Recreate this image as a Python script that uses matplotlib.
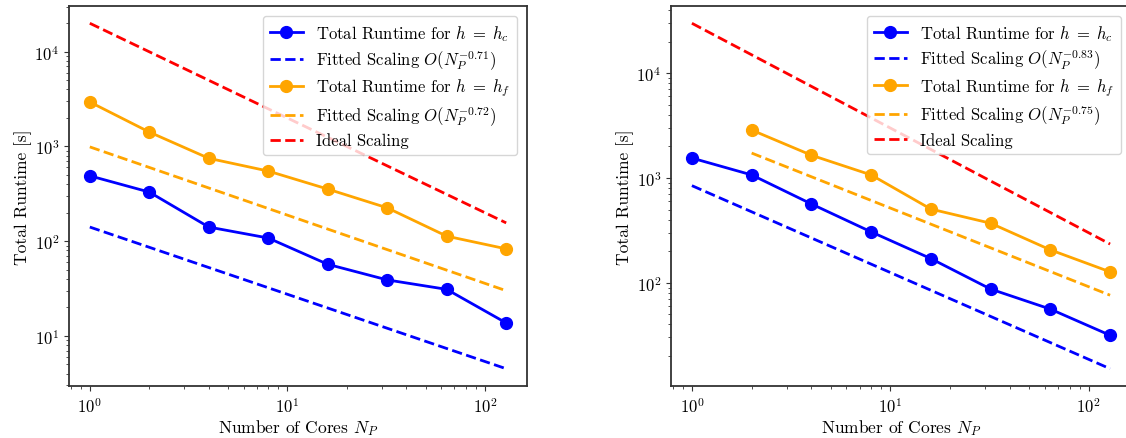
import matplotlib
matplotlib.use("Agg")
import matplotlib.pyplot as plt

plt.rcParams['font.family'] = 'serif'
plt.rcParams['font.serif'] = ['cmr10', 'DejaVu Serif']
plt.rcParams['mathtext.fontset'] = 'cm'
plt.rcParams['axes.unicode_minus'] = False
plt.rcParams['axes.formatter.use_mathtext'] = True
plt.rcParams['axes.edgecolor'] = '#333333'
plt.rcParams['axes.linewidth'] = 1.3
plt.rcParams['xtick.color'] = '#333333'
plt.rcParams['ytick.color'] = '#333333'
plt.rcParams['xtick.labelcolor'] = 'black'
plt.rcParams['ytick.labelcolor'] = 'black'

cores = [1, 2, 4, 8, 16, 32, 64, 128]

# Left panel
left_hc = [490, 330, 141, 108, 57, 39, 31, 13.7]
left_hf = [2950, 1420, 750, 550, 355, 225, 113, 83]
left_fit_hc_x = [1, 128]
left_fit_hc_y = [141, 4.5]
left_fit_hf_x = [1, 128]
left_fit_hf_y = [990, 30]
left_ideal_x = [1, 128]
left_ideal_y = [20000, 156]
left_exp_hc = "-0.71"
left_exp_hf = "-0.72"

# Right panel
right_cores_hf = [2, 4, 8, 16, 32, 64, 128]
right_hc = [1550, 1070, 565, 306, 170, 87, 56, 31.5]
right_hf = [2870, 1650, 1070, 505, 370, 206, 127]
right_fit_hc_x = [1, 128]
right_fit_hc_y = [845, 15.1]
right_fit_hf_x = [2, 128]
right_fit_hf_y = [1730, 76]
right_ideal_x = [1, 128]
right_ideal_y = [30000, 234]
right_exp_hc = "-0.83"
right_exp_hf = "-0.75"

W, H = 1126, 439
fig = plt.figure(figsize=(W / 100, H / 100), dpi=100)
ax1 = fig.add_axes([69 / W, 1 - 387 / H, 458 / W, 380 / H])
ax2 = fig.add_axes([671 / W, 1 - 387 / H, 460 / W, 380 / H])

BLUE = '#0000ff'
ORANGE = '#ffa500'
RED = '#ff0000'


def draw(ax, xc, yc, xf, yf, fxc, fyc, fxf, fyf, ix, iy, ec, ef):
    ax.plot(xc, yc, '-o', color=BLUE, lw=2, ms=8.5,
            label=r'Total Runtime for $h\;=\;h_c$')
    ax.plot(fxc, fyc, '--', color=BLUE, lw=2,
            label=r'Fitted Scaling $O(N_P^{%s})$' % ec)
    ax.plot(xf, yf, '-o', color=ORANGE, lw=2, ms=8.5,
            label=r'Total Runtime for $h\;=\;h_f$')
    ax.plot(fxf, fyf, '--', color=ORANGE, lw=2,
            label=r'Fitted Scaling $O(N_P^{%s})$' % ef)
    ax.plot(ix, iy, '--', color=RED, lw=2, label='Ideal Scaling')
    ax.set_xscale('log')
    ax.set_yscale('log')
    ax.set_xlabel(r'Number of Cores $N_P$', fontsize=12.5, labelpad=2)
    ax.set_ylabel('Total Runtime [s]', fontsize=12.5, labelpad=2)
    ax.tick_params(labelsize=12)
    ax.legend(loc='upper right', fontsize=12, labelspacing=0.3,
              borderaxespad=0.6)


draw(ax1, cores, left_hc, cores, left_hf, left_fit_hc_x, left_fit_hc_y,
     left_fit_hf_x, left_fit_hf_y, left_ideal_x, left_ideal_y,
     left_exp_hc, left_exp_hf)
draw(ax2, cores, right_hc, right_cores_hf, right_hf, right_fit_hc_x,
     right_fit_hc_y, right_fit_hf_x, right_fit_hf_y, right_ideal_x,
     right_ideal_y, right_exp_hc, right_exp_hf)

fig.savefig('out.png', dpi=100)
